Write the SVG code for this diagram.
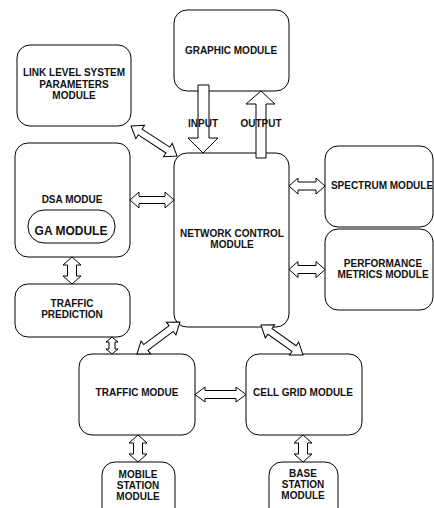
<svg xmlns="http://www.w3.org/2000/svg" width="434" height="508" viewBox="0 0 434 508">
<style>
.box{fill:#fff;stroke:#000;stroke-width:1}
.arr{fill:#fff;stroke:#000;stroke-width:1;stroke-linejoin:miter}
text{font-family:"Liberation Sans",Arial,sans-serif;font-weight:bold;font-size:10px;fill:#111;text-anchor:middle}
.big{font-size:12px}
</style>
<rect width="434" height="508" fill="#fff"/>
<g id="graphic"><rect class="box" x="174" y="10" width="115" height="81" rx="13"/><text x="231" y="54">GRAPHIC MODULE</text></g>
<g id="linklevel"><rect class="box" x="17" y="45" width="114" height="81" rx="13"/><text x="74" y="76">LINK LEVEL SYSTEM</text><text x="74" y="88">PARAMETERS</text><text x="74" y="99">MODULE</text></g>
<g id="dsa"><rect class="box" x="15" y="143" width="115" height="114" rx="13"/><text x="72" y="203">DSA MODUE</text></g>
<g id="ga"><rect class="box" x="28" y="210" width="87" height="33" rx="16"/><text class="big" x="71" y="235">GA MODULE</text></g>
<g id="trafficpred"><rect class="box" x="15" y="284" width="115" height="53" rx="13"/><text x="72" y="307">TRAFFIC</text><text x="72" y="318">PREDICTION</text></g>
<g id="ncm"><rect class="box" x="174" y="153" width="115" height="174" rx="13"/><text x="232" y="237">NETWORK CONTROL</text><text x="232" y="248">MODULE</text></g>
<g id="spectrum"><rect class="box" x="325" y="146" width="108" height="81" rx="13"/><text x="382" y="189">SPECTRUM MODULE</text></g>
<g id="performance"><rect class="box" x="325" y="229" width="108" height="81" rx="13"/><text x="383" y="267">PERFORMANCE</text><text x="383" y="278">METRICS MODULE</text></g>
<g id="traffic"><rect class="box" x="79" y="354" width="116" height="81" rx="13"/><text x="137" y="396">TRAFFIC MODUE</text></g>
<g id="cellgrid"><rect class="box" x="246" y="354" width="116" height="81" rx="13"/><text x="303" y="396">CELL GRID MODULE</text></g>
<g id="mobile"><rect class="box" x="102" y="462" width="73" height="60" rx="13"/><text x="138" y="478">MOBILE</text><text x="138" y="489">STATION</text><text x="138" y="500">MODULE</text></g>
<g id="base"><rect class="box" x="269" y="462" width="69" height="60" rx="13"/><text x="303" y="477">BASE</text><text x="303" y="488">STATION</text><text x="303" y="499">MODULE</text></g>
<g id="connectors">
<polygon class="arr" points="198,85 209,85 209,138 218,138 203,153 188,138 198,138"/>
<polygon class="arr" points="256,158 266,158 266,104 275,104 261,91 246,104 256,104"/>
<polygon class="arr" transform="translate(131,126) rotate(33.1)" points="0,0 11,-8 11,-3.5 44,-3.5 44,-8 55,0 44,8 44,3.5 11,3.5 11,8"/>
<polygon class="arr" transform="translate(130,200)" points="0,0 9,-8 9,-3.5 35,-3.5 35,-8 44,0 35,8 35,3.5 9,3.5 9,8"/>
<polygon class="arr" transform="translate(289,186)" points="0,0 9,-8 9,-4 27,-4 27,-8 36,0 27,8 27,4 9,4 9,8"/>
<polygon class="arr" transform="translate(289,269.5)" points="0,0 9,-8 9,-4 27,-4 27,-8 36,0 27,8 27,4 9,4 9,8"/>
<polygon class="arr" transform="translate(72,257) rotate(90)" points="0,0 8,-9 8,-4.5 19,-4.5 19,-9 27,0 19,9 19,4.5 8,4.5 8,9"/>
<polygon class="arr" transform="translate(112,337) rotate(90)" points="0,0 5,-6 5,-3 12,-3 12,-6 17,0 12,6 12,3 5,3 5,6"/>
<polygon class="arr" transform="translate(137,354) rotate(-36.7)" points="0,0 11,-8 11,-3.5 42.6,-3.5 42.6,-8 53.6,0 42.6,8 42.6,3.5 11,3.5 11,8"/>
<polygon class="arr" transform="translate(261,325) rotate(35.5)" points="0,0 11,-8 11,-3.5 40.6,-3.5 40.6,-8 51.6,0 40.6,8 40.6,3.5 11,3.5 11,8"/>
<polygon class="arr" transform="translate(195,394.5)" points="0,0 10,-7.5 10,-4 41,-4 41,-7.5 51,0 41,7.5 41,4 10,4 10,7.5"/>
<polygon class="arr" transform="translate(138,435) rotate(90)" points="0,0 8,-9 8,-4.5 19,-4.5 19,-9 27,0 19,9 19,4.5 8,4.5 8,9"/>
<polygon class="arr" transform="translate(303,435) rotate(90)" points="0,0 8,-9 8,-4.5 19,-4.5 19,-9 27,0 19,9 19,4.5 8,4.5 8,9"/>
</g>
<text x="203" y="127" font-size="9">INPUT</text>
<text x="261" y="127" font-size="9">OUTPUT</text>
</svg>
